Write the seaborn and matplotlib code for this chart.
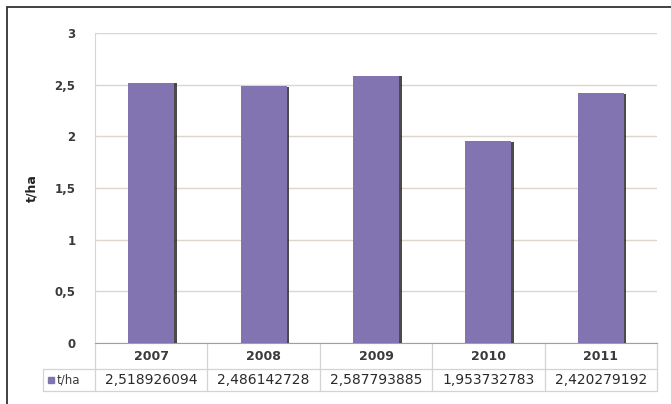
import matplotlib
matplotlib.use('Agg')
import matplotlib.pyplot as plt
import matplotlib.patheffects as pe
import matplotlib.transforms as mtransforms
from matplotlib.patches import Rectangle
import numpy as np
import pandas as pd
import seaborn as sns

sns.set_style('white')
plt.rcParams['font.family'] = ['DejaVu Sans']

# data
years = ['2007', '2008', '2009', '2010', '2011']
values = [2.518926094, 2.486142728, 2.587793885, 1.953732783, 2.420279192]
series_name = 't/ha'
y_ticks = [0, 0.5, 1, 1.5, 2, 2.5, 3]

bar_color = '#8274b0'
grid_color = '#ddd6cf'
table_color = '#d3d3d3'
text_color = '#3a3a3a'

df = pd.DataFrame({'year': years, 'value': values})

fig = plt.figure(figsize=(6.71, 4.04), dpi=100)
ax = fig.add_axes([95 / 671, 1 - 343 / 404, 562 / 671, 310 / 404])

sns.barplot(data=df, x='year', y='value', color=bar_color, width=0.41,
            saturation=1, linewidth=0, ax=ax, zorder=3)
for p in ax.patches:
    p.set_edgecolor('none')
    p.set_path_effects([pe.withSimplePatchShadow(offset=(1.8, -0.5),
                                                 shadow_rgbFace='#2b2b2b',
                                                 alpha=0.85),
                        pe.Normal()])

ax.set_xlim(-0.5, len(years) - 0.5)
ax.set_ylim(0, 3)
ax.set_yticks(y_ticks)
ax.set_yticklabels([('%g' % t).replace('.', ',') for t in y_ticks],
                   fontsize=8.5, fontweight='bold', color=text_color)
ax.tick_params(axis='y', length=0, pad=14)
ax.set_xticks([])
ax.set_xlabel('')
ax.set_ylabel(series_name, fontsize=9, fontweight='bold', color='#222222',
              labelpad=12)
ax.yaxis.grid(True, color=grid_color, lw=1)
ax.set_axisbelow(True)
for s in ['top', 'right']:
    ax.spines[s].set_visible(False)
ax.spines['left'].set_color(grid_color)
ax.spines['bottom'].set_color('#a0a0a0')

# data table under the axis
trans = mtransforms.blended_transform_factory(ax.transData, ax.transAxes)
r1, r2 = -0.084, -0.155
x_left, x_right = -0.5, len(years) - 0.5
x_lab = -0.963
line_kw = dict(color=table_color, lw=0.9, transform=trans, clip_on=False)
ax.plot([x_lab, x_right], [r1, r1], **line_kw)
ax.plot([x_lab, x_right], [r2, r2], **line_kw)
ax.plot([x_lab, x_lab], [r1, r2], **line_kw)
for i in range(len(years) + 1):
    ax.plot([x_left + i, x_left + i], [0, r2], **line_kw)

for i, (yr, v) in enumerate(zip(years, values)):
    ax.text(i, r1 / 2, yr, transform=trans, ha='center', va='center',
            fontsize=9, fontweight='bold', color=text_color)
    ax.text(i, (r1 + r2) / 2, ('%.9f' % v).replace('.', ','),
            transform=trans, ha='center', va='center', fontsize=10,
            color='#2a2a2a')

ax.add_patch(Rectangle((x_lab + 0.045, (r1 + r2) / 2 - 0.011), 0.05, 0.022,
                       transform=trans, color=bar_color, clip_on=False))
ax.text(x_lab + 0.125, (r1 + r2) / 2, series_name, transform=trans,
        ha='left', va='center', fontsize=8.5, color=text_color)

# outer chart frame (right and bottom edges fall outside the picture)
fig.add_artist(Rectangle((7 / 671, -0.2), 1.2, 1.2 - 7 / 404,
                         transform=fig.transFigure, fill=False,
                         edgecolor='#333333', lw=1.3))

fig.savefig('out.png', dpi=100)
